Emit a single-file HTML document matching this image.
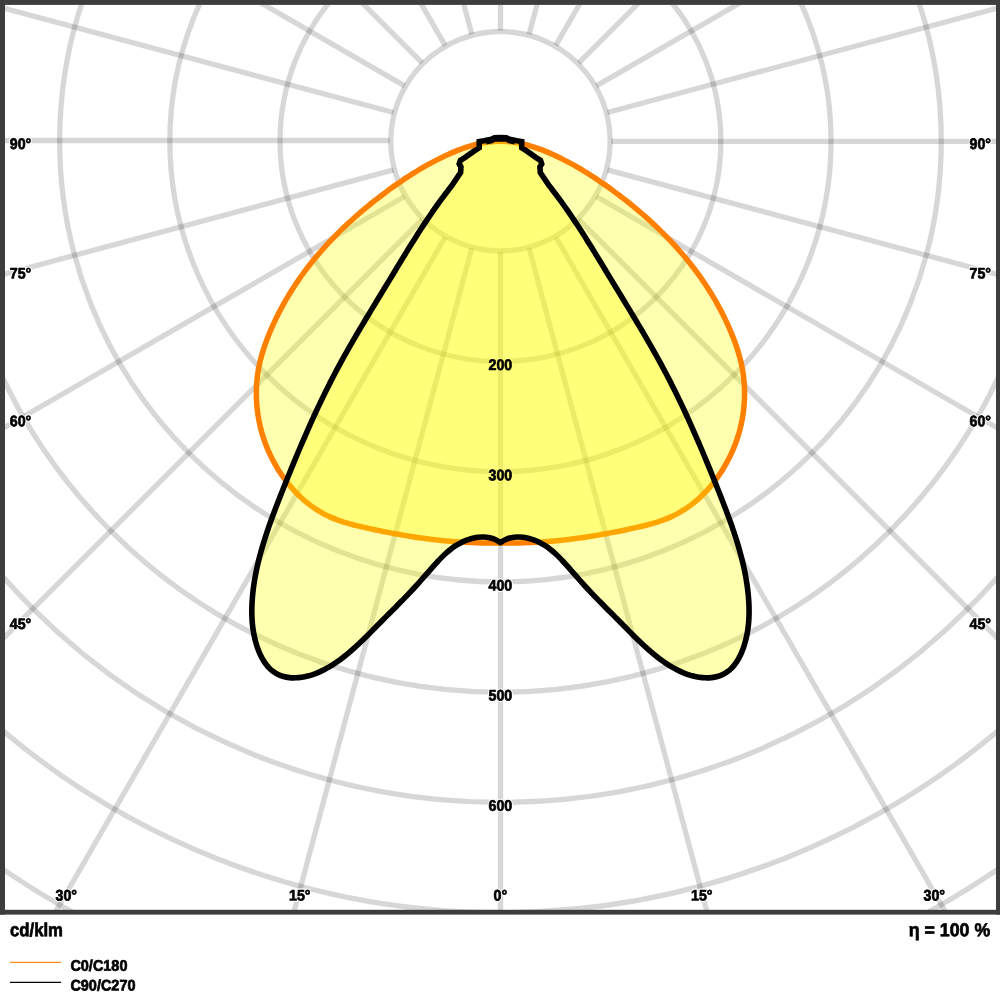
<!DOCTYPE html>
<html><head><meta charset="utf-8"><title>Polar light distribution</title>
<style>
html,body{margin:0;padding:0;background:#fff;}
body{width:1000px;height:1000px;overflow:hidden;position:relative;font-family:"Liberation Sans",sans-serif;}
svg{position:absolute;left:0;top:0;display:block;}
text{font-family:"Liberation Sans",sans-serif;font-weight:bold;font-size:15.3px;}
.ink{fill:#000;stroke:#000;stroke-width:0.7px;}
.halo{fill:#fff;stroke:#fff;stroke-width:2.8px;stroke-linejoin:round;}
.grid{fill:none;stroke:#000;stroke-opacity:0.155;stroke-width:5.3;}
.big{font-size:18.7px;}
</style></head><body>
<svg width="1000" height="1000" viewBox="0 0 1000 1000">
<defs><clipPath id="fr"><rect x="5" y="4.5" width="991" height="905.5"/></clipPath></defs>
<rect x="0" y="0" width="1000" height="1000" fill="#fff"/>
<g clip-path="url(#fr)">
<g class="grid"><circle cx="500.45" cy="141.20" r="109.70"/><circle cx="500.45" cy="141.20" r="220.40"/><circle cx="500.45" cy="141.20" r="330.60"/><circle cx="500.45" cy="141.20" r="440.80"/><circle cx="500.45" cy="141.20" r="551.00"/><circle cx="500.45" cy="141.20" r="661.20"/><circle cx="500.45" cy="141.20" r="771.40"/><circle cx="500.45" cy="141.20" r="881.60"/><line x1="500.50" y1="251.90" x2="500.50" y2="1241.20"/><line x1="529.10" y1="248.13" x2="785.15" y2="1203.72"/><line x1="555.80" y1="237.07" x2="1050.45" y2="1093.83"/><line x1="578.73" y1="219.48" x2="1278.27" y2="919.02"/><line x1="596.32" y1="196.55" x2="1453.08" y2="691.20"/><line x1="607.38" y1="169.85" x2="1562.97" y2="425.90"/><line x1="611.15" y1="141.30" x2="1600.45" y2="141.30"/><line x1="607.38" y1="112.55" x2="1562.97" y2="-143.50"/><line x1="596.32" y1="85.85" x2="1453.08" y2="-408.80"/><line x1="578.73" y1="62.92" x2="1278.27" y2="-636.62"/><line x1="555.80" y1="45.33" x2="1050.45" y2="-811.43"/><line x1="529.10" y1="34.27" x2="785.15" y2="-921.32"/><line x1="500.50" y1="30.50" x2="500.50" y2="-958.80"/><line x1="471.80" y1="34.27" x2="215.75" y2="-921.32"/><line x1="445.10" y1="45.33" x2="-49.55" y2="-811.43"/><line x1="422.17" y1="62.92" x2="-277.37" y2="-636.62"/><line x1="404.58" y1="85.85" x2="-452.18" y2="-408.80"/><line x1="393.52" y1="112.55" x2="-562.07" y2="-143.50"/><line x1="389.75" y1="140.50" x2="-599.55" y2="140.50"/><line x1="393.52" y1="169.85" x2="-562.07" y2="425.90"/><line x1="404.58" y1="196.55" x2="-452.18" y2="691.20"/><line x1="422.17" y1="219.48" x2="-277.37" y2="919.02"/><line x1="445.10" y1="237.07" x2="-49.55" y2="1093.83"/><line x1="471.80" y1="248.13" x2="215.75" y2="1203.72"/></g>
<use href="#labels" class="halo"/>
<path d="M500.45 141.30C499.44 141.33 496.40 141.36 494.40 141.49C492.40 141.62 490.41 141.82 488.43 142.08C486.46 142.33 484.49 142.65 482.54 143.02C480.59 143.38 478.65 143.81 476.72 144.28C474.79 144.75 472.88 145.28 470.97 145.84C469.07 146.40 467.18 147.01 465.30 147.64C463.42 148.28 461.55 148.97 459.69 149.67C457.83 150.38 455.99 151.12 454.15 151.89C452.31 152.65 450.49 153.44 448.67 154.25C446.86 155.06 445.05 155.89 443.26 156.75C441.47 157.60 439.68 158.48 437.91 159.37C436.13 160.27 434.37 161.18 432.61 162.12C430.86 163.05 429.11 164.00 427.38 164.97C425.64 165.95 423.91 166.93 422.19 167.94C420.47 168.94 418.76 169.97 417.06 171.00C415.36 172.04 413.67 173.09 411.98 174.16C410.30 175.23 408.62 176.31 406.95 177.40C405.28 178.50 403.62 179.60 401.97 180.72C400.32 181.84 398.67 182.98 397.03 184.12C395.39 185.26 393.76 186.42 392.14 187.58C390.51 188.74 388.89 189.92 387.28 191.10C385.67 192.28 384.07 193.48 382.47 194.68C380.87 195.88 379.29 197.10 377.71 198.32C376.13 199.54 374.55 200.78 372.99 202.02C371.42 203.26 369.87 204.52 368.32 205.78C366.77 207.04 365.24 208.32 363.71 209.60C362.18 210.89 360.66 212.18 359.15 213.49C357.64 214.79 356.14 216.10 354.65 217.43C353.16 218.75 351.68 220.09 350.21 221.44C348.74 222.78 347.28 224.14 345.83 225.50C344.38 226.87 342.94 228.25 341.51 229.64C340.08 231.02 338.67 232.42 337.26 233.83C335.86 235.24 334.47 236.66 333.09 238.09C331.71 239.52 330.34 240.96 328.98 242.41C327.63 243.86 326.28 245.32 324.95 246.80C323.62 248.27 322.30 249.75 321.00 251.25C319.69 252.74 318.40 254.25 317.12 255.77C315.84 257.28 314.58 258.81 313.33 260.35C312.07 261.89 310.84 263.44 309.62 265.00C308.39 266.56 307.18 268.13 305.99 269.71C304.80 271.29 303.62 272.89 302.46 274.49C301.29 276.10 300.14 277.71 299.01 279.34C297.88 280.97 296.76 282.61 295.66 284.26C294.56 285.91 293.48 287.57 292.41 289.24C291.34 290.91 290.29 292.60 289.25 294.29C288.22 295.99 287.20 297.69 286.19 299.41C285.19 301.13 284.21 302.86 283.24 304.60C282.28 306.35 281.33 308.10 280.39 309.86C279.46 311.63 278.55 313.40 277.66 315.19C276.76 316.98 275.88 318.78 275.03 320.59C274.17 322.40 273.33 324.23 272.51 326.06C271.69 327.90 270.89 329.75 270.11 331.60C269.33 333.46 268.57 335.33 267.83 337.21C267.10 339.10 266.38 340.99 265.70 342.89C265.02 344.79 264.36 346.70 263.74 348.62C263.11 350.53 262.52 352.46 261.96 354.39C261.41 356.32 260.88 358.26 260.40 360.21C259.92 362.15 259.48 364.11 259.08 366.06C258.68 368.02 258.32 369.98 258.01 371.94C257.70 373.90 257.43 375.87 257.21 377.84C256.99 379.81 256.81 381.78 256.67 383.75C256.54 385.72 256.44 387.70 256.39 389.67C256.34 391.64 256.33 393.62 256.36 395.59C256.39 397.56 256.46 399.53 256.57 401.50C256.68 403.46 256.83 405.43 257.02 407.39C257.22 409.35 257.45 411.31 257.72 413.27C258.00 415.22 258.31 417.17 258.67 419.11C259.02 421.05 259.42 422.99 259.85 424.92C260.29 426.85 260.76 428.77 261.28 430.69C261.79 432.60 262.35 434.51 262.95 436.40C263.54 438.30 264.18 440.19 264.86 442.06C265.53 443.94 266.25 445.80 267.00 447.66C267.76 449.51 268.56 451.35 269.39 453.18C270.23 455.01 271.10 456.82 272.01 458.62C272.93 460.42 273.88 462.20 274.86 463.96C275.85 465.72 276.88 467.47 277.94 469.19C279.00 470.91 280.10 472.61 281.23 474.28C282.36 475.95 283.53 477.60 284.73 479.22C285.93 480.84 287.16 482.44 288.43 484.00C289.70 485.56 291.00 487.10 292.33 488.60C293.66 490.09 295.03 491.56 296.42 492.99C297.82 494.42 299.24 495.82 300.70 497.18C302.15 498.53 303.64 499.86 305.15 501.13C306.67 502.41 308.21 503.65 309.78 504.84C311.35 506.03 312.95 507.18 314.57 508.28C316.20 509.38 317.85 510.44 319.53 511.45C321.20 512.45 322.91 513.41 324.63 514.32C326.36 515.22 328.11 516.07 329.89 516.87C331.66 517.67 333.46 518.42 335.28 519.13C337.10 519.83 338.94 520.49 340.79 521.12C342.65 521.74 344.53 522.33 346.42 522.89C348.31 523.45 350.22 523.97 352.14 524.49C354.06 525.00 356.00 525.48 357.94 525.95C359.89 526.43 361.85 526.88 363.81 527.34C365.78 527.79 367.76 528.23 369.74 528.67C371.72 529.10 373.71 529.53 375.70 529.95C377.69 530.37 379.69 530.78 381.69 531.19C383.69 531.59 385.69 531.99 387.69 532.37C389.68 532.76 391.68 533.14 393.68 533.50C395.68 533.87 397.67 534.23 399.66 534.58C401.64 534.93 403.63 535.27 405.60 535.60C407.58 535.93 409.55 536.25 411.52 536.56C413.49 536.87 415.46 537.17 417.42 537.45C419.38 537.74 421.34 538.02 423.29 538.29C425.25 538.56 427.21 538.82 429.16 539.06C431.11 539.31 433.06 539.55 435.02 539.77C436.97 540.00 438.92 540.21 440.87 540.42C442.82 540.62 444.77 540.81 446.73 540.99C448.68 541.17 450.63 541.34 452.59 541.50C454.55 541.66 456.51 541.81 458.47 541.94C460.43 542.08 462.40 542.20 464.37 542.31C466.34 542.42 468.31 542.52 470.29 542.61C472.27 542.70 474.25 542.78 476.24 542.84C478.23 542.90 480.23 542.95 482.23 542.99C484.23 543.03 486.24 543.06 488.26 543.07C490.27 543.08 492.30 543.09 494.33 543.07C496.36 543.06 499.43 543.01 500.45 543.00C501.47 543.01 504.54 543.06 506.57 543.07C508.60 543.09 510.63 543.08 512.64 543.07C514.66 543.06 516.67 543.03 518.67 542.99C520.67 542.95 522.67 542.90 524.66 542.84C526.65 542.78 528.63 542.70 530.61 542.61C532.59 542.52 534.56 542.42 536.53 542.31C538.50 542.20 540.47 542.08 542.43 541.94C544.39 541.81 546.35 541.66 548.31 541.50C550.27 541.34 552.22 541.17 554.17 540.99C556.13 540.81 558.08 540.62 560.03 540.42C561.98 540.21 563.93 540.00 565.88 539.77C567.84 539.55 569.79 539.31 571.74 539.06C573.69 538.82 575.65 538.56 577.61 538.29C579.56 538.02 581.52 537.74 583.48 537.45C585.44 537.17 587.41 536.87 589.38 536.56C591.35 536.25 593.32 535.93 595.30 535.60C597.27 535.27 599.26 534.93 601.24 534.58C603.23 534.23 605.22 533.87 607.22 533.50C609.22 533.14 611.22 532.76 613.21 532.37C615.21 531.99 617.21 531.59 619.21 531.19C621.21 530.78 623.21 530.37 625.20 529.95C627.19 529.53 629.18 529.10 631.16 528.67C633.14 528.23 635.12 527.79 637.09 527.34C639.05 526.88 641.01 526.43 642.96 525.95C644.90 525.48 646.84 525.00 648.76 524.49C650.68 523.97 652.59 523.45 654.48 522.89C656.37 522.33 658.25 521.74 660.11 521.12C661.96 520.49 663.80 519.83 665.62 519.13C667.44 518.42 669.24 517.67 671.01 516.87C672.79 516.07 674.54 515.22 676.27 514.32C677.99 513.41 679.70 512.45 681.37 511.45C683.05 510.44 684.70 509.38 686.33 508.28C687.95 507.18 689.55 506.03 691.12 504.84C692.69 503.65 694.23 502.41 695.75 501.13C697.26 499.86 698.75 498.53 700.20 497.18C701.66 495.82 703.08 494.42 704.48 492.99C705.87 491.56 707.24 490.09 708.57 488.60C709.90 487.10 711.20 485.56 712.47 484.00C713.74 482.44 714.97 480.84 716.17 479.22C717.37 477.60 718.54 475.95 719.67 474.28C720.80 472.61 721.90 470.91 722.96 469.19C724.02 467.47 725.05 465.72 726.04 463.96C727.02 462.20 727.97 460.42 728.89 458.62C729.80 456.82 730.67 455.01 731.51 453.18C732.34 451.35 733.14 449.51 733.90 447.66C734.65 445.80 735.37 443.94 736.04 442.06C736.72 440.19 737.36 438.30 737.95 436.40C738.55 434.51 739.11 432.60 739.62 430.69C740.14 428.77 740.61 426.85 741.05 424.92C741.48 422.99 741.88 421.05 742.23 419.11C742.59 417.17 742.90 415.22 743.18 413.27C743.45 411.31 743.68 409.35 743.88 407.39C744.07 405.43 744.22 403.46 744.33 401.50C744.44 399.53 744.51 397.56 744.54 395.59C744.57 393.62 744.56 391.64 744.51 389.67C744.46 387.70 744.36 385.72 744.23 383.75C744.09 381.78 743.91 379.81 743.69 377.84C743.47 375.87 743.20 373.90 742.89 371.94C742.58 369.98 742.22 368.02 741.82 366.06C741.42 364.11 740.98 362.15 740.50 360.21C740.02 358.26 739.49 356.32 738.94 354.39C738.38 352.46 737.79 350.53 737.16 348.62C736.54 346.70 735.88 344.79 735.20 342.89C734.52 340.99 733.80 339.10 733.07 337.21C732.33 335.33 731.57 333.46 730.79 331.60C730.01 329.75 729.21 327.90 728.39 326.06C727.57 324.23 726.73 322.40 725.87 320.59C725.02 318.78 724.14 316.98 723.24 315.19C722.35 313.40 721.44 311.63 720.51 309.86C719.57 308.10 718.62 306.35 717.66 304.60C716.69 302.86 715.71 301.13 714.71 299.41C713.70 297.69 712.68 295.99 711.65 294.29C710.61 292.60 709.56 290.91 708.49 289.24C707.42 287.57 706.34 285.91 705.24 284.26C704.14 282.61 703.02 280.97 701.89 279.34C700.76 277.71 699.61 276.10 698.44 274.49C697.28 272.89 696.10 271.29 694.91 269.71C693.72 268.13 692.51 266.56 691.28 265.00C690.06 263.44 688.83 261.89 687.57 260.35C686.32 258.81 685.06 257.28 683.78 255.77C682.50 254.25 681.21 252.74 679.90 251.25C678.60 249.75 677.28 248.27 675.95 246.80C674.62 245.32 673.27 243.86 671.92 242.41C670.56 240.96 669.19 239.52 667.81 238.09C666.43 236.66 665.04 235.24 663.64 233.83C662.23 232.42 660.82 231.02 659.39 229.64C657.96 228.25 656.52 226.87 655.07 225.50C653.62 224.14 652.16 222.78 650.69 221.44C649.22 220.09 647.74 218.75 646.25 217.43C644.76 216.10 643.26 214.79 641.75 213.49C640.24 212.18 638.72 210.89 637.19 209.60C635.66 208.32 634.13 207.04 632.58 205.78C631.03 204.52 629.48 203.26 627.91 202.02C626.35 200.78 624.77 199.54 623.19 198.32C621.61 197.10 620.03 195.88 618.43 194.68C616.83 193.48 615.23 192.28 613.62 191.10C612.01 189.92 610.39 188.74 608.76 187.58C607.14 186.42 605.51 185.26 603.87 184.12C602.23 182.98 600.58 181.84 598.93 180.72C597.28 179.60 595.62 178.50 593.95 177.40C592.28 176.31 590.60 175.23 588.92 174.16C587.23 173.09 585.54 172.04 583.84 171.00C582.14 169.97 580.43 168.94 578.71 167.94C576.99 166.93 575.26 165.95 573.52 164.97C571.79 164.00 570.04 163.05 568.29 162.12C566.53 161.18 564.77 160.27 562.99 159.37C561.22 158.48 559.43 157.60 557.64 156.75C555.85 155.89 554.04 155.06 552.23 154.25C550.41 153.44 548.59 152.65 546.75 151.89C544.91 151.12 543.07 150.38 541.21 149.67C539.35 148.97 537.48 148.28 535.60 147.64C533.72 147.01 531.83 146.40 529.93 145.84C528.02 145.28 526.11 144.75 524.18 144.28C522.25 143.81 520.31 143.38 518.36 143.02C516.41 142.65 514.44 142.33 512.47 142.08C510.49 141.82 508.50 141.62 506.50 141.49C504.50 141.36 501.46 141.33 500.45 141.30Z" fill="#ffff00" fill-opacity="0.31" stroke="none"/>
<path d="M500.45 141.30C499.44 141.33 496.40 141.36 494.40 141.49C492.40 141.62 490.41 141.82 488.43 142.08C486.46 142.33 484.49 142.65 482.54 143.02C480.59 143.38 478.65 143.81 476.72 144.28C474.79 144.75 472.88 145.28 470.97 145.84C469.07 146.40 467.18 147.01 465.30 147.64C463.42 148.28 461.55 148.97 459.69 149.67C457.83 150.38 455.99 151.12 454.15 151.89C452.31 152.65 450.49 153.44 448.67 154.25C446.86 155.06 445.05 155.89 443.26 156.75C441.47 157.60 439.68 158.48 437.91 159.37C436.13 160.27 434.37 161.18 432.61 162.12C430.86 163.05 429.11 164.00 427.38 164.97C425.64 165.95 423.91 166.93 422.19 167.94C420.47 168.94 418.76 169.97 417.06 171.00C415.36 172.04 413.67 173.09 411.98 174.16C410.30 175.23 408.62 176.31 406.95 177.40C405.28 178.50 403.62 179.60 401.97 180.72C400.32 181.84 398.67 182.98 397.03 184.12C395.39 185.26 393.76 186.42 392.14 187.58C390.51 188.74 388.89 189.92 387.28 191.10C385.67 192.28 384.07 193.48 382.47 194.68C380.87 195.88 379.29 197.10 377.71 198.32C376.13 199.54 374.55 200.78 372.99 202.02C371.42 203.26 369.87 204.52 368.32 205.78C366.77 207.04 365.24 208.32 363.71 209.60C362.18 210.89 360.66 212.18 359.15 213.49C357.64 214.79 356.14 216.10 354.65 217.43C353.16 218.75 351.68 220.09 350.21 221.44C348.74 222.78 347.28 224.14 345.83 225.50C344.38 226.87 342.94 228.25 341.51 229.64C340.08 231.02 338.67 232.42 337.26 233.83C335.86 235.24 334.47 236.66 333.09 238.09C331.71 239.52 330.34 240.96 328.98 242.41C327.63 243.86 326.28 245.32 324.95 246.80C323.62 248.27 322.30 249.75 321.00 251.25C319.69 252.74 318.40 254.25 317.12 255.77C315.84 257.28 314.58 258.81 313.33 260.35C312.07 261.89 310.84 263.44 309.62 265.00C308.39 266.56 307.18 268.13 305.99 269.71C304.80 271.29 303.62 272.89 302.46 274.49C301.29 276.10 300.14 277.71 299.01 279.34C297.88 280.97 296.76 282.61 295.66 284.26C294.56 285.91 293.48 287.57 292.41 289.24C291.34 290.91 290.29 292.60 289.25 294.29C288.22 295.99 287.20 297.69 286.19 299.41C285.19 301.13 284.21 302.86 283.24 304.60C282.28 306.35 281.33 308.10 280.39 309.86C279.46 311.63 278.55 313.40 277.66 315.19C276.76 316.98 275.88 318.78 275.03 320.59C274.17 322.40 273.33 324.23 272.51 326.06C271.69 327.90 270.89 329.75 270.11 331.60C269.33 333.46 268.57 335.33 267.83 337.21C267.10 339.10 266.38 340.99 265.70 342.89C265.02 344.79 264.36 346.70 263.74 348.62C263.11 350.53 262.52 352.46 261.96 354.39C261.41 356.32 260.88 358.26 260.40 360.21C259.92 362.15 259.48 364.11 259.08 366.06C258.68 368.02 258.32 369.98 258.01 371.94C257.70 373.90 257.43 375.87 257.21 377.84C256.99 379.81 256.81 381.78 256.67 383.75C256.54 385.72 256.44 387.70 256.39 389.67C256.34 391.64 256.33 393.62 256.36 395.59C256.39 397.56 256.46 399.53 256.57 401.50C256.68 403.46 256.83 405.43 257.02 407.39C257.22 409.35 257.45 411.31 257.72 413.27C258.00 415.22 258.31 417.17 258.67 419.11C259.02 421.05 259.42 422.99 259.85 424.92C260.29 426.85 260.76 428.77 261.28 430.69C261.79 432.60 262.35 434.51 262.95 436.40C263.54 438.30 264.18 440.19 264.86 442.06C265.53 443.94 266.25 445.80 267.00 447.66C267.76 449.51 268.56 451.35 269.39 453.18C270.23 455.01 271.10 456.82 272.01 458.62C272.93 460.42 273.88 462.20 274.86 463.96C275.85 465.72 276.88 467.47 277.94 469.19C279.00 470.91 280.10 472.61 281.23 474.28C282.36 475.95 283.53 477.60 284.73 479.22C285.93 480.84 287.16 482.44 288.43 484.00C289.70 485.56 291.00 487.10 292.33 488.60C293.66 490.09 295.03 491.56 296.42 492.99C297.82 494.42 299.24 495.82 300.70 497.18C302.15 498.53 303.64 499.86 305.15 501.13C306.67 502.41 308.21 503.65 309.78 504.84C311.35 506.03 312.95 507.18 314.57 508.28C316.20 509.38 317.85 510.44 319.53 511.45C321.20 512.45 322.91 513.41 324.63 514.32C326.36 515.22 328.11 516.07 329.89 516.87C331.66 517.67 333.46 518.42 335.28 519.13C337.10 519.83 338.94 520.49 340.79 521.12C342.65 521.74 344.53 522.33 346.42 522.89C348.31 523.45 350.22 523.97 352.14 524.49C354.06 525.00 356.00 525.48 357.94 525.95C359.89 526.43 361.85 526.88 363.81 527.34C365.78 527.79 367.76 528.23 369.74 528.67C371.72 529.10 373.71 529.53 375.70 529.95C377.69 530.37 379.69 530.78 381.69 531.19C383.69 531.59 385.69 531.99 387.69 532.37C389.68 532.76 391.68 533.14 393.68 533.50C395.68 533.87 397.67 534.23 399.66 534.58C401.64 534.93 403.63 535.27 405.60 535.60C407.58 535.93 409.55 536.25 411.52 536.56C413.49 536.87 415.46 537.17 417.42 537.45C419.38 537.74 421.34 538.02 423.29 538.29C425.25 538.56 427.21 538.82 429.16 539.06C431.11 539.31 433.06 539.55 435.02 539.77C436.97 540.00 438.92 540.21 440.87 540.42C442.82 540.62 444.77 540.81 446.73 540.99C448.68 541.17 450.63 541.34 452.59 541.50C454.55 541.66 456.51 541.81 458.47 541.94C460.43 542.08 462.40 542.20 464.37 542.31C466.34 542.42 468.31 542.52 470.29 542.61C472.27 542.70 474.25 542.78 476.24 542.84C478.23 542.90 480.23 542.95 482.23 542.99C484.23 543.03 486.24 543.06 488.26 543.07C490.27 543.08 492.30 543.09 494.33 543.07C496.36 543.06 499.43 543.01 500.45 543.00C501.47 543.01 504.54 543.06 506.57 543.07C508.60 543.09 510.63 543.08 512.64 543.07C514.66 543.06 516.67 543.03 518.67 542.99C520.67 542.95 522.67 542.90 524.66 542.84C526.65 542.78 528.63 542.70 530.61 542.61C532.59 542.52 534.56 542.42 536.53 542.31C538.50 542.20 540.47 542.08 542.43 541.94C544.39 541.81 546.35 541.66 548.31 541.50C550.27 541.34 552.22 541.17 554.17 540.99C556.13 540.81 558.08 540.62 560.03 540.42C561.98 540.21 563.93 540.00 565.88 539.77C567.84 539.55 569.79 539.31 571.74 539.06C573.69 538.82 575.65 538.56 577.61 538.29C579.56 538.02 581.52 537.74 583.48 537.45C585.44 537.17 587.41 536.87 589.38 536.56C591.35 536.25 593.32 535.93 595.30 535.60C597.27 535.27 599.26 534.93 601.24 534.58C603.23 534.23 605.22 533.87 607.22 533.50C609.22 533.14 611.22 532.76 613.21 532.37C615.21 531.99 617.21 531.59 619.21 531.19C621.21 530.78 623.21 530.37 625.20 529.95C627.19 529.53 629.18 529.10 631.16 528.67C633.14 528.23 635.12 527.79 637.09 527.34C639.05 526.88 641.01 526.43 642.96 525.95C644.90 525.48 646.84 525.00 648.76 524.49C650.68 523.97 652.59 523.45 654.48 522.89C656.37 522.33 658.25 521.74 660.11 521.12C661.96 520.49 663.80 519.83 665.62 519.13C667.44 518.42 669.24 517.67 671.01 516.87C672.79 516.07 674.54 515.22 676.27 514.32C677.99 513.41 679.70 512.45 681.37 511.45C683.05 510.44 684.70 509.38 686.33 508.28C687.95 507.18 689.55 506.03 691.12 504.84C692.69 503.65 694.23 502.41 695.75 501.13C697.26 499.86 698.75 498.53 700.20 497.18C701.66 495.82 703.08 494.42 704.48 492.99C705.87 491.56 707.24 490.09 708.57 488.60C709.90 487.10 711.20 485.56 712.47 484.00C713.74 482.44 714.97 480.84 716.17 479.22C717.37 477.60 718.54 475.95 719.67 474.28C720.80 472.61 721.90 470.91 722.96 469.19C724.02 467.47 725.05 465.72 726.04 463.96C727.02 462.20 727.97 460.42 728.89 458.62C729.80 456.82 730.67 455.01 731.51 453.18C732.34 451.35 733.14 449.51 733.90 447.66C734.65 445.80 735.37 443.94 736.04 442.06C736.72 440.19 737.36 438.30 737.95 436.40C738.55 434.51 739.11 432.60 739.62 430.69C740.14 428.77 740.61 426.85 741.05 424.92C741.48 422.99 741.88 421.05 742.23 419.11C742.59 417.17 742.90 415.22 743.18 413.27C743.45 411.31 743.68 409.35 743.88 407.39C744.07 405.43 744.22 403.46 744.33 401.50C744.44 399.53 744.51 397.56 744.54 395.59C744.57 393.62 744.56 391.64 744.51 389.67C744.46 387.70 744.36 385.72 744.23 383.75C744.09 381.78 743.91 379.81 743.69 377.84C743.47 375.87 743.20 373.90 742.89 371.94C742.58 369.98 742.22 368.02 741.82 366.06C741.42 364.11 740.98 362.15 740.50 360.21C740.02 358.26 739.49 356.32 738.94 354.39C738.38 352.46 737.79 350.53 737.16 348.62C736.54 346.70 735.88 344.79 735.20 342.89C734.52 340.99 733.80 339.10 733.07 337.21C732.33 335.33 731.57 333.46 730.79 331.60C730.01 329.75 729.21 327.90 728.39 326.06C727.57 324.23 726.73 322.40 725.87 320.59C725.02 318.78 724.14 316.98 723.24 315.19C722.35 313.40 721.44 311.63 720.51 309.86C719.57 308.10 718.62 306.35 717.66 304.60C716.69 302.86 715.71 301.13 714.71 299.41C713.70 297.69 712.68 295.99 711.65 294.29C710.61 292.60 709.56 290.91 708.49 289.24C707.42 287.57 706.34 285.91 705.24 284.26C704.14 282.61 703.02 280.97 701.89 279.34C700.76 277.71 699.61 276.10 698.44 274.49C697.28 272.89 696.10 271.29 694.91 269.71C693.72 268.13 692.51 266.56 691.28 265.00C690.06 263.44 688.83 261.89 687.57 260.35C686.32 258.81 685.06 257.28 683.78 255.77C682.50 254.25 681.21 252.74 679.90 251.25C678.60 249.75 677.28 248.27 675.95 246.80C674.62 245.32 673.27 243.86 671.92 242.41C670.56 240.96 669.19 239.52 667.81 238.09C666.43 236.66 665.04 235.24 663.64 233.83C662.23 232.42 660.82 231.02 659.39 229.64C657.96 228.25 656.52 226.87 655.07 225.50C653.62 224.14 652.16 222.78 650.69 221.44C649.22 220.09 647.74 218.75 646.25 217.43C644.76 216.10 643.26 214.79 641.75 213.49C640.24 212.18 638.72 210.89 637.19 209.60C635.66 208.32 634.13 207.04 632.58 205.78C631.03 204.52 629.48 203.26 627.91 202.02C626.35 200.78 624.77 199.54 623.19 198.32C621.61 197.10 620.03 195.88 618.43 194.68C616.83 193.48 615.23 192.28 613.62 191.10C612.01 189.92 610.39 188.74 608.76 187.58C607.14 186.42 605.51 185.26 603.87 184.12C602.23 182.98 600.58 181.84 598.93 180.72C597.28 179.60 595.62 178.50 593.95 177.40C592.28 176.31 590.60 175.23 588.92 174.16C587.23 173.09 585.54 172.04 583.84 171.00C582.14 169.97 580.43 168.94 578.71 167.94C576.99 166.93 575.26 165.95 573.52 164.97C571.79 164.00 570.04 163.05 568.29 162.12C566.53 161.18 564.77 160.27 562.99 159.37C561.22 158.48 559.43 157.60 557.64 156.75C555.85 155.89 554.04 155.06 552.23 154.25C550.41 153.44 548.59 152.65 546.75 151.89C544.91 151.12 543.07 150.38 541.21 149.67C539.35 148.97 537.48 148.28 535.60 147.64C533.72 147.01 531.83 146.40 529.93 145.84C528.02 145.28 526.11 144.75 524.18 144.28C522.25 143.81 520.31 143.38 518.36 143.02C516.41 142.65 514.44 142.33 512.47 142.08C510.49 141.82 508.50 141.62 506.50 141.49C504.50 141.36 501.46 141.33 500.45 141.30Z" fill="none" stroke="#ff8000" stroke-width="5.5" stroke-linejoin="round"/>
<path d="M500.45 137.60L494.50 137.70L491.50 139.30L484.00 140.80L479.20 141.60L479.20 147.80L473.60 151.40L465.20 157.40L460.40 160.40L459.20 164.00L461.00 167.00L460.60 172.60L452.00 185.40C451.37 186.20 449.48 188.59 448.25 190.19C447.01 191.80 445.78 193.41 444.57 195.02C443.36 196.63 442.16 198.25 440.97 199.88C439.78 201.50 438.60 203.13 437.43 204.76C436.26 206.40 435.10 208.04 433.96 209.68C432.81 211.32 431.67 212.97 430.54 214.62C429.41 216.27 428.29 217.93 427.18 219.59C426.07 221.25 424.96 222.91 423.86 224.58C422.77 226.25 421.68 227.92 420.59 229.59C419.51 231.27 418.43 232.94 417.36 234.62C416.28 236.31 415.22 237.99 414.16 239.68C413.09 241.36 412.04 243.05 410.98 244.75C409.93 246.44 408.88 248.13 407.83 249.83C406.79 251.53 405.74 253.23 404.70 254.93C403.66 256.63 402.62 258.34 401.59 260.04C400.55 261.75 399.51 263.45 398.48 265.16C397.44 266.87 396.41 268.58 395.37 270.30C394.33 272.01 393.30 273.72 392.26 275.44C391.23 277.15 390.19 278.87 389.15 280.58C388.11 282.30 387.07 284.02 386.03 285.73C384.98 287.45 383.94 289.17 382.89 290.89C381.85 292.61 380.80 294.33 379.75 296.05C378.71 297.77 377.66 299.50 376.61 301.22C375.57 302.94 374.52 304.67 373.47 306.40C372.43 308.12 371.38 309.85 370.34 311.58C369.29 313.31 368.25 315.04 367.21 316.77C366.17 318.50 365.13 320.23 364.10 321.96C363.06 323.70 362.03 325.43 360.99 327.17C359.96 328.91 358.94 330.65 357.91 332.39C356.89 334.13 355.87 335.87 354.85 337.61C353.84 339.35 352.83 341.10 351.82 342.85C350.81 344.59 349.81 346.34 348.81 348.09C347.82 349.84 346.83 351.59 345.84 353.35C344.86 355.10 343.88 356.86 342.91 358.62C341.93 360.38 340.97 362.14 340.01 363.90C339.05 365.66 338.10 367.43 337.16 369.19C336.21 370.96 335.28 372.73 334.35 374.50C333.42 376.27 332.50 378.04 331.59 379.82C330.67 381.60 329.77 383.37 328.87 385.15C327.97 386.93 327.08 388.72 326.19 390.50C325.30 392.29 324.43 394.07 323.55 395.86C322.68 397.65 321.82 399.44 320.96 401.24C320.10 403.03 319.24 404.83 318.39 406.63C317.54 408.43 316.70 410.23 315.86 412.03C315.03 413.84 314.20 415.64 313.37 417.45C312.54 419.26 311.72 421.07 310.90 422.88C310.09 424.70 309.28 426.51 308.47 428.33C307.66 430.15 306.86 431.97 306.06 433.79C305.26 435.62 304.47 437.44 303.68 439.27C302.88 441.10 302.10 442.93 301.31 444.76C300.53 446.59 299.75 448.43 298.97 450.27C298.20 452.11 297.42 453.95 296.65 455.79C295.88 457.63 295.12 459.48 294.35 461.33C293.59 463.18 292.82 465.03 292.06 466.88C291.30 468.74 290.55 470.59 289.79 472.45C289.04 474.31 288.28 476.17 287.53 478.04C286.78 479.90 286.03 481.77 285.28 483.64C284.53 485.51 283.78 487.38 283.04 489.26C282.29 491.13 281.54 493.01 280.80 494.89C280.06 496.77 279.32 498.65 278.58 500.54C277.84 502.42 277.11 504.31 276.39 506.21C275.66 508.10 274.94 509.99 274.22 511.89C273.51 513.79 272.80 515.69 272.11 517.59C271.41 519.49 270.72 521.40 270.04 523.30C269.36 525.21 268.69 527.12 268.04 529.04C267.38 530.95 266.74 532.87 266.11 534.79C265.48 536.71 264.86 538.63 264.26 540.56C263.66 542.48 263.07 544.41 262.50 546.34C261.93 548.27 261.37 550.21 260.84 552.15C260.30 554.08 259.78 556.02 259.29 557.97C258.79 559.91 258.31 561.86 257.86 563.80C257.40 565.75 256.96 567.71 256.55 569.66C256.14 571.62 255.75 573.57 255.39 575.54C255.02 577.50 254.68 579.46 254.37 581.43C254.05 583.40 253.76 585.37 253.50 587.34C253.24 589.31 253.01 591.29 252.80 593.27C252.60 595.25 252.43 597.23 252.28 599.22C252.14 601.20 252.02 603.19 251.95 605.18C251.87 607.18 251.82 609.17 251.82 611.17C251.82 613.16 251.86 615.16 251.94 617.16C252.03 619.16 252.15 621.15 252.34 623.15C252.52 625.15 252.74 627.15 253.03 629.15C253.32 631.15 253.66 633.15 254.07 635.15C254.47 637.15 254.93 639.15 255.47 641.14C256.00 643.12 256.59 645.13 257.26 647.08C257.93 649.03 258.67 650.98 259.49 652.85C260.30 654.73 261.19 656.57 262.17 658.32C263.14 660.08 264.20 661.78 265.34 663.36C266.48 664.95 267.71 666.46 269.03 667.84C270.35 669.21 271.76 670.49 273.28 671.61C274.79 672.73 276.39 673.74 278.10 674.56C279.81 675.38 281.64 676.04 283.52 676.55C285.41 677.06 287.41 677.39 289.42 677.60C291.43 677.81 293.51 677.86 295.57 677.81C297.62 677.75 299.72 677.56 301.75 677.27C303.78 676.98 305.79 676.56 307.75 676.07C309.71 675.58 311.63 674.98 313.52 674.32C315.40 673.65 317.25 672.90 319.07 672.10C320.90 671.30 322.69 670.43 324.46 669.51C326.22 668.60 327.96 667.62 329.68 666.61C331.40 665.59 333.09 664.52 334.77 663.41C336.44 662.31 338.09 661.15 339.71 659.96C341.34 658.78 342.95 657.55 344.54 656.29C346.13 655.03 347.70 653.74 349.25 652.42C350.81 651.11 352.35 649.76 353.87 648.40C355.39 647.04 356.90 645.65 358.39 644.25C359.88 642.85 361.36 641.43 362.83 640.01C364.30 638.58 365.76 637.14 367.21 635.70C368.66 634.26 370.09 632.81 371.52 631.37C372.96 629.92 374.38 628.47 375.79 627.04C377.21 625.60 378.62 624.16 380.03 622.74C381.44 621.32 382.84 619.91 384.24 618.51C385.63 617.11 387.03 615.71 388.42 614.32C389.81 612.93 391.20 611.55 392.58 610.17C393.97 608.78 395.35 607.40 396.73 606.01C398.11 604.63 399.48 603.24 400.85 601.84C402.23 600.45 403.60 599.05 404.96 597.63C406.33 596.22 407.70 594.80 409.06 593.36C410.42 591.92 411.78 590.48 413.14 589.01C414.50 587.54 415.86 586.05 417.21 584.55C418.57 583.04 419.92 581.52 421.28 579.99C422.63 578.47 423.98 576.93 425.33 575.39C426.68 573.86 428.03 572.31 429.38 570.78C430.73 569.25 432.08 567.72 433.43 566.21C434.78 564.70 436.12 563.19 437.49 561.72C438.86 560.25 440.23 558.79 441.63 557.38C443.04 555.97 444.46 554.59 445.93 553.27C447.40 551.94 448.89 550.66 450.44 549.44C452.00 548.22 453.59 547.05 455.25 545.96C456.91 544.88 458.63 543.84 460.42 542.91C462.21 541.98 464.07 541.11 465.97 540.36C467.86 539.62 469.82 538.96 471.78 538.44C473.74 537.93 475.75 537.52 477.74 537.27C479.73 537.03 481.74 536.91 483.71 536.98C485.69 537.04 487.66 537.26 489.58 537.68C491.49 538.10 493.38 538.70 495.20 539.51C497.01 540.33 499.57 542.09 500.45 542.60C501.33 542.09 503.89 540.33 505.70 539.51C507.52 538.70 509.41 538.10 511.32 537.68C513.24 537.26 515.21 537.04 517.19 536.98C519.16 536.91 521.17 537.03 523.16 537.27C525.15 537.52 527.16 537.93 529.12 538.44C531.08 538.96 533.04 539.62 534.93 540.36C536.83 541.11 538.69 541.98 540.48 542.91C542.27 543.84 543.99 544.88 545.65 545.96C547.31 547.05 548.90 548.22 550.46 549.44C552.01 550.66 553.50 551.94 554.97 553.27C556.44 554.59 557.86 555.97 559.27 557.38C560.67 558.79 562.04 560.25 563.41 561.72C564.78 563.19 566.12 564.70 567.47 566.21C568.82 567.72 570.17 569.25 571.52 570.78C572.87 572.31 574.22 573.86 575.57 575.39C576.92 576.93 578.27 578.47 579.62 579.99C580.98 581.52 582.33 583.04 583.69 584.55C585.04 586.05 586.40 587.54 587.76 589.01C589.12 590.48 590.48 591.92 591.84 593.36C593.20 594.80 594.57 596.22 595.94 597.63C597.30 599.05 598.67 600.45 600.05 601.84C601.42 603.24 602.79 604.63 604.17 606.01C605.55 607.40 606.93 608.78 608.32 610.17C609.70 611.55 611.09 612.93 612.48 614.32C613.87 615.71 615.27 617.11 616.66 618.51C618.06 619.91 619.46 621.32 620.87 622.74C622.28 624.16 623.69 625.60 625.11 627.04C626.52 628.47 627.94 629.92 629.38 631.37C630.81 632.81 632.24 634.26 633.69 635.70C635.14 637.14 636.60 638.58 638.07 640.01C639.54 641.43 641.02 642.85 642.51 644.25C644.00 645.65 645.51 647.04 647.03 648.40C648.55 649.76 650.09 651.11 651.65 652.42C653.20 653.74 654.77 655.03 656.36 656.29C657.95 657.55 659.56 658.78 661.19 659.96C662.81 661.15 664.46 662.31 666.13 663.41C667.81 664.52 669.50 665.59 671.22 666.61C672.94 667.62 674.68 668.60 676.44 669.51C678.21 670.43 680.00 671.30 681.83 672.10C683.65 672.90 685.50 673.65 687.38 674.32C689.27 674.98 691.19 675.58 693.15 676.07C695.11 676.56 697.12 676.98 699.15 677.27C701.18 677.56 703.28 677.75 705.33 677.81C707.39 677.86 709.47 677.81 711.48 677.60C713.49 677.39 715.49 677.06 717.38 676.55C719.26 676.04 721.09 675.38 722.80 674.56C724.51 673.74 726.11 672.73 727.62 671.61C729.14 670.49 730.55 669.21 731.87 667.84C733.19 666.46 734.42 664.95 735.56 663.36C736.70 661.78 737.76 660.08 738.73 658.32C739.71 656.57 740.60 654.73 741.41 652.85C742.23 650.98 742.97 649.03 743.64 647.08C744.31 645.13 744.90 643.12 745.43 641.14C745.97 639.15 746.43 637.15 746.83 635.15C747.24 633.15 747.58 631.15 747.87 629.15C748.16 627.15 748.38 625.15 748.56 623.15C748.75 621.15 748.87 619.16 748.96 617.16C749.04 615.16 749.08 613.16 749.08 611.17C749.08 609.17 749.03 607.18 748.95 605.18C748.88 603.19 748.76 601.20 748.62 599.22C748.47 597.23 748.30 595.25 748.10 593.27C747.89 591.29 747.66 589.31 747.40 587.34C747.14 585.37 746.85 583.40 746.53 581.43C746.22 579.46 745.88 577.50 745.51 575.54C745.15 573.57 744.76 571.62 744.35 569.66C743.94 567.71 743.50 565.75 743.04 563.80C742.59 561.86 742.11 559.91 741.61 557.97C741.12 556.02 740.60 554.08 740.06 552.15C739.53 550.21 738.97 548.27 738.40 546.34C737.83 544.41 737.24 542.48 736.64 540.56C736.04 538.63 735.42 536.71 734.79 534.79C734.16 532.87 733.52 530.95 732.86 529.04C732.21 527.12 731.54 525.21 730.86 523.30C730.18 521.40 729.49 519.49 728.79 517.59C728.10 515.69 727.39 513.79 726.68 511.89C725.96 509.99 725.24 508.10 724.51 506.21C723.79 504.31 723.06 502.42 722.32 500.54C721.58 498.65 720.84 496.77 720.10 494.89C719.36 493.01 718.61 491.13 717.86 489.26C717.12 487.38 716.37 485.51 715.62 483.64C714.87 481.77 714.12 479.90 713.37 478.04C712.62 476.17 711.86 474.31 711.11 472.45C710.35 470.59 709.60 468.74 708.84 466.88C708.08 465.03 707.31 463.18 706.55 461.33C705.78 459.48 705.02 457.63 704.25 455.79C703.48 453.95 702.70 452.11 701.93 450.27C701.15 448.43 700.37 446.59 699.59 444.76C698.80 442.93 698.02 441.10 697.22 439.27C696.43 437.44 695.64 435.62 694.84 433.79C694.04 431.97 693.24 430.15 692.43 428.33C691.62 426.51 690.81 424.70 690.00 422.88C689.18 421.07 688.36 419.26 687.53 417.45C686.70 415.64 685.87 413.84 685.04 412.03C684.20 410.23 683.36 408.43 682.51 406.63C681.66 404.83 680.80 403.03 679.94 401.24C679.08 399.44 678.22 397.65 677.35 395.86C676.47 394.07 675.60 392.29 674.71 390.50C673.82 388.72 672.93 386.93 672.03 385.15C671.13 383.37 670.23 381.60 669.31 379.82C668.40 378.04 667.48 376.27 666.55 374.50C665.62 372.73 664.69 370.96 663.74 369.19C662.80 367.43 661.85 365.66 660.89 363.90C659.93 362.14 658.97 360.38 657.99 358.62C657.02 356.86 656.04 355.10 655.06 353.35C654.07 351.59 653.08 349.84 652.09 348.09C651.09 346.34 650.09 344.59 649.08 342.85C648.07 341.10 647.06 339.35 646.05 337.61C645.03 335.87 644.01 334.13 642.99 332.39C641.96 330.65 640.94 328.91 639.91 327.17C638.87 325.43 637.84 323.70 636.80 321.96C635.77 320.23 634.73 318.50 633.69 316.77C632.65 315.04 631.61 313.31 630.56 311.58C629.52 309.85 628.47 308.12 627.43 306.40C626.38 304.67 625.33 302.94 624.29 301.22C623.24 299.50 622.19 297.77 621.15 296.05C620.10 294.33 619.05 292.61 618.01 290.89C616.96 289.17 615.92 287.45 614.87 285.73C613.83 284.02 612.79 282.30 611.75 280.58C610.71 278.87 609.67 277.15 608.64 275.44C607.60 273.72 606.57 272.01 605.53 270.30C604.49 268.58 603.46 266.87 602.42 265.16C601.39 263.45 600.35 261.75 599.31 260.04C598.28 258.34 597.24 256.63 596.20 254.93C595.16 253.23 594.11 251.53 593.07 249.83C592.02 248.13 590.97 246.44 589.92 244.75C588.86 243.05 587.81 241.36 586.74 239.68C585.68 237.99 584.62 236.31 583.54 234.62C582.47 232.94 581.39 231.27 580.31 229.59C579.22 227.92 578.13 226.25 577.04 224.58C575.94 222.91 574.83 221.25 573.72 219.59C572.61 217.93 571.49 216.27 570.36 214.62C569.23 212.97 568.09 211.32 566.94 209.68C565.80 208.04 564.64 206.40 563.47 204.76C562.30 203.13 561.12 201.50 559.93 199.88C558.74 198.25 557.54 196.63 556.33 195.02C555.12 193.41 553.89 191.80 552.65 190.19C551.42 188.59 549.53 186.20 548.90 185.40L540.30 172.60L539.90 167.00L541.70 164.00L540.50 160.40L535.70 157.40L527.30 151.40L521.70 147.80L521.70 141.60L516.90 140.80L509.40 139.30L506.40 137.70L500.45 137.60Z" fill="#ffff00" fill-opacity="0.31" stroke="none"/>
<path d="M500.45 137.60L494.50 137.70L491.50 139.30L484.00 140.80L479.20 141.60L479.20 147.80L473.60 151.40L465.20 157.40L460.40 160.40L459.20 164.00L461.00 167.00L460.60 172.60L452.00 185.40C451.37 186.20 449.48 188.59 448.25 190.19C447.01 191.80 445.78 193.41 444.57 195.02C443.36 196.63 442.16 198.25 440.97 199.88C439.78 201.50 438.60 203.13 437.43 204.76C436.26 206.40 435.10 208.04 433.96 209.68C432.81 211.32 431.67 212.97 430.54 214.62C429.41 216.27 428.29 217.93 427.18 219.59C426.07 221.25 424.96 222.91 423.86 224.58C422.77 226.25 421.68 227.92 420.59 229.59C419.51 231.27 418.43 232.94 417.36 234.62C416.28 236.31 415.22 237.99 414.16 239.68C413.09 241.36 412.04 243.05 410.98 244.75C409.93 246.44 408.88 248.13 407.83 249.83C406.79 251.53 405.74 253.23 404.70 254.93C403.66 256.63 402.62 258.34 401.59 260.04C400.55 261.75 399.51 263.45 398.48 265.16C397.44 266.87 396.41 268.58 395.37 270.30C394.33 272.01 393.30 273.72 392.26 275.44C391.23 277.15 390.19 278.87 389.15 280.58C388.11 282.30 387.07 284.02 386.03 285.73C384.98 287.45 383.94 289.17 382.89 290.89C381.85 292.61 380.80 294.33 379.75 296.05C378.71 297.77 377.66 299.50 376.61 301.22C375.57 302.94 374.52 304.67 373.47 306.40C372.43 308.12 371.38 309.85 370.34 311.58C369.29 313.31 368.25 315.04 367.21 316.77C366.17 318.50 365.13 320.23 364.10 321.96C363.06 323.70 362.03 325.43 360.99 327.17C359.96 328.91 358.94 330.65 357.91 332.39C356.89 334.13 355.87 335.87 354.85 337.61C353.84 339.35 352.83 341.10 351.82 342.85C350.81 344.59 349.81 346.34 348.81 348.09C347.82 349.84 346.83 351.59 345.84 353.35C344.86 355.10 343.88 356.86 342.91 358.62C341.93 360.38 340.97 362.14 340.01 363.90C339.05 365.66 338.10 367.43 337.16 369.19C336.21 370.96 335.28 372.73 334.35 374.50C333.42 376.27 332.50 378.04 331.59 379.82C330.67 381.60 329.77 383.37 328.87 385.15C327.97 386.93 327.08 388.72 326.19 390.50C325.30 392.29 324.43 394.07 323.55 395.86C322.68 397.65 321.82 399.44 320.96 401.24C320.10 403.03 319.24 404.83 318.39 406.63C317.54 408.43 316.70 410.23 315.86 412.03C315.03 413.84 314.20 415.64 313.37 417.45C312.54 419.26 311.72 421.07 310.90 422.88C310.09 424.70 309.28 426.51 308.47 428.33C307.66 430.15 306.86 431.97 306.06 433.79C305.26 435.62 304.47 437.44 303.68 439.27C302.88 441.10 302.10 442.93 301.31 444.76C300.53 446.59 299.75 448.43 298.97 450.27C298.20 452.11 297.42 453.95 296.65 455.79C295.88 457.63 295.12 459.48 294.35 461.33C293.59 463.18 292.82 465.03 292.06 466.88C291.30 468.74 290.55 470.59 289.79 472.45C289.04 474.31 288.28 476.17 287.53 478.04C286.78 479.90 286.03 481.77 285.28 483.64C284.53 485.51 283.78 487.38 283.04 489.26C282.29 491.13 281.54 493.01 280.80 494.89C280.06 496.77 279.32 498.65 278.58 500.54C277.84 502.42 277.11 504.31 276.39 506.21C275.66 508.10 274.94 509.99 274.22 511.89C273.51 513.79 272.80 515.69 272.11 517.59C271.41 519.49 270.72 521.40 270.04 523.30C269.36 525.21 268.69 527.12 268.04 529.04C267.38 530.95 266.74 532.87 266.11 534.79C265.48 536.71 264.86 538.63 264.26 540.56C263.66 542.48 263.07 544.41 262.50 546.34C261.93 548.27 261.37 550.21 260.84 552.15C260.30 554.08 259.78 556.02 259.29 557.97C258.79 559.91 258.31 561.86 257.86 563.80C257.40 565.75 256.96 567.71 256.55 569.66C256.14 571.62 255.75 573.57 255.39 575.54C255.02 577.50 254.68 579.46 254.37 581.43C254.05 583.40 253.76 585.37 253.50 587.34C253.24 589.31 253.01 591.29 252.80 593.27C252.60 595.25 252.43 597.23 252.28 599.22C252.14 601.20 252.02 603.19 251.95 605.18C251.87 607.18 251.82 609.17 251.82 611.17C251.82 613.16 251.86 615.16 251.94 617.16C252.03 619.16 252.15 621.15 252.34 623.15C252.52 625.15 252.74 627.15 253.03 629.15C253.32 631.15 253.66 633.15 254.07 635.15C254.47 637.15 254.93 639.15 255.47 641.14C256.00 643.12 256.59 645.13 257.26 647.08C257.93 649.03 258.67 650.98 259.49 652.85C260.30 654.73 261.19 656.57 262.17 658.32C263.14 660.08 264.20 661.78 265.34 663.36C266.48 664.95 267.71 666.46 269.03 667.84C270.35 669.21 271.76 670.49 273.28 671.61C274.79 672.73 276.39 673.74 278.10 674.56C279.81 675.38 281.64 676.04 283.52 676.55C285.41 677.06 287.41 677.39 289.42 677.60C291.43 677.81 293.51 677.86 295.57 677.81C297.62 677.75 299.72 677.56 301.75 677.27C303.78 676.98 305.79 676.56 307.75 676.07C309.71 675.58 311.63 674.98 313.52 674.32C315.40 673.65 317.25 672.90 319.07 672.10C320.90 671.30 322.69 670.43 324.46 669.51C326.22 668.60 327.96 667.62 329.68 666.61C331.40 665.59 333.09 664.52 334.77 663.41C336.44 662.31 338.09 661.15 339.71 659.96C341.34 658.78 342.95 657.55 344.54 656.29C346.13 655.03 347.70 653.74 349.25 652.42C350.81 651.11 352.35 649.76 353.87 648.40C355.39 647.04 356.90 645.65 358.39 644.25C359.88 642.85 361.36 641.43 362.83 640.01C364.30 638.58 365.76 637.14 367.21 635.70C368.66 634.26 370.09 632.81 371.52 631.37C372.96 629.92 374.38 628.47 375.79 627.04C377.21 625.60 378.62 624.16 380.03 622.74C381.44 621.32 382.84 619.91 384.24 618.51C385.63 617.11 387.03 615.71 388.42 614.32C389.81 612.93 391.20 611.55 392.58 610.17C393.97 608.78 395.35 607.40 396.73 606.01C398.11 604.63 399.48 603.24 400.85 601.84C402.23 600.45 403.60 599.05 404.96 597.63C406.33 596.22 407.70 594.80 409.06 593.36C410.42 591.92 411.78 590.48 413.14 589.01C414.50 587.54 415.86 586.05 417.21 584.55C418.57 583.04 419.92 581.52 421.28 579.99C422.63 578.47 423.98 576.93 425.33 575.39C426.68 573.86 428.03 572.31 429.38 570.78C430.73 569.25 432.08 567.72 433.43 566.21C434.78 564.70 436.12 563.19 437.49 561.72C438.86 560.25 440.23 558.79 441.63 557.38C443.04 555.97 444.46 554.59 445.93 553.27C447.40 551.94 448.89 550.66 450.44 549.44C452.00 548.22 453.59 547.05 455.25 545.96C456.91 544.88 458.63 543.84 460.42 542.91C462.21 541.98 464.07 541.11 465.97 540.36C467.86 539.62 469.82 538.96 471.78 538.44C473.74 537.93 475.75 537.52 477.74 537.27C479.73 537.03 481.74 536.91 483.71 536.98C485.69 537.04 487.66 537.26 489.58 537.68C491.49 538.10 493.38 538.70 495.20 539.51C497.01 540.33 499.57 542.09 500.45 542.60C501.33 542.09 503.89 540.33 505.70 539.51C507.52 538.70 509.41 538.10 511.32 537.68C513.24 537.26 515.21 537.04 517.19 536.98C519.16 536.91 521.17 537.03 523.16 537.27C525.15 537.52 527.16 537.93 529.12 538.44C531.08 538.96 533.04 539.62 534.93 540.36C536.83 541.11 538.69 541.98 540.48 542.91C542.27 543.84 543.99 544.88 545.65 545.96C547.31 547.05 548.90 548.22 550.46 549.44C552.01 550.66 553.50 551.94 554.97 553.27C556.44 554.59 557.86 555.97 559.27 557.38C560.67 558.79 562.04 560.25 563.41 561.72C564.78 563.19 566.12 564.70 567.47 566.21C568.82 567.72 570.17 569.25 571.52 570.78C572.87 572.31 574.22 573.86 575.57 575.39C576.92 576.93 578.27 578.47 579.62 579.99C580.98 581.52 582.33 583.04 583.69 584.55C585.04 586.05 586.40 587.54 587.76 589.01C589.12 590.48 590.48 591.92 591.84 593.36C593.20 594.80 594.57 596.22 595.94 597.63C597.30 599.05 598.67 600.45 600.05 601.84C601.42 603.24 602.79 604.63 604.17 606.01C605.55 607.40 606.93 608.78 608.32 610.17C609.70 611.55 611.09 612.93 612.48 614.32C613.87 615.71 615.27 617.11 616.66 618.51C618.06 619.91 619.46 621.32 620.87 622.74C622.28 624.16 623.69 625.60 625.11 627.04C626.52 628.47 627.94 629.92 629.38 631.37C630.81 632.81 632.24 634.26 633.69 635.70C635.14 637.14 636.60 638.58 638.07 640.01C639.54 641.43 641.02 642.85 642.51 644.25C644.00 645.65 645.51 647.04 647.03 648.40C648.55 649.76 650.09 651.11 651.65 652.42C653.20 653.74 654.77 655.03 656.36 656.29C657.95 657.55 659.56 658.78 661.19 659.96C662.81 661.15 664.46 662.31 666.13 663.41C667.81 664.52 669.50 665.59 671.22 666.61C672.94 667.62 674.68 668.60 676.44 669.51C678.21 670.43 680.00 671.30 681.83 672.10C683.65 672.90 685.50 673.65 687.38 674.32C689.27 674.98 691.19 675.58 693.15 676.07C695.11 676.56 697.12 676.98 699.15 677.27C701.18 677.56 703.28 677.75 705.33 677.81C707.39 677.86 709.47 677.81 711.48 677.60C713.49 677.39 715.49 677.06 717.38 676.55C719.26 676.04 721.09 675.38 722.80 674.56C724.51 673.74 726.11 672.73 727.62 671.61C729.14 670.49 730.55 669.21 731.87 667.84C733.19 666.46 734.42 664.95 735.56 663.36C736.70 661.78 737.76 660.08 738.73 658.32C739.71 656.57 740.60 654.73 741.41 652.85C742.23 650.98 742.97 649.03 743.64 647.08C744.31 645.13 744.90 643.12 745.43 641.14C745.97 639.15 746.43 637.15 746.83 635.15C747.24 633.15 747.58 631.15 747.87 629.15C748.16 627.15 748.38 625.15 748.56 623.15C748.75 621.15 748.87 619.16 748.96 617.16C749.04 615.16 749.08 613.16 749.08 611.17C749.08 609.17 749.03 607.18 748.95 605.18C748.88 603.19 748.76 601.20 748.62 599.22C748.47 597.23 748.30 595.25 748.10 593.27C747.89 591.29 747.66 589.31 747.40 587.34C747.14 585.37 746.85 583.40 746.53 581.43C746.22 579.46 745.88 577.50 745.51 575.54C745.15 573.57 744.76 571.62 744.35 569.66C743.94 567.71 743.50 565.75 743.04 563.80C742.59 561.86 742.11 559.91 741.61 557.97C741.12 556.02 740.60 554.08 740.06 552.15C739.53 550.21 738.97 548.27 738.40 546.34C737.83 544.41 737.24 542.48 736.64 540.56C736.04 538.63 735.42 536.71 734.79 534.79C734.16 532.87 733.52 530.95 732.86 529.04C732.21 527.12 731.54 525.21 730.86 523.30C730.18 521.40 729.49 519.49 728.79 517.59C728.10 515.69 727.39 513.79 726.68 511.89C725.96 509.99 725.24 508.10 724.51 506.21C723.79 504.31 723.06 502.42 722.32 500.54C721.58 498.65 720.84 496.77 720.10 494.89C719.36 493.01 718.61 491.13 717.86 489.26C717.12 487.38 716.37 485.51 715.62 483.64C714.87 481.77 714.12 479.90 713.37 478.04C712.62 476.17 711.86 474.31 711.11 472.45C710.35 470.59 709.60 468.74 708.84 466.88C708.08 465.03 707.31 463.18 706.55 461.33C705.78 459.48 705.02 457.63 704.25 455.79C703.48 453.95 702.70 452.11 701.93 450.27C701.15 448.43 700.37 446.59 699.59 444.76C698.80 442.93 698.02 441.10 697.22 439.27C696.43 437.44 695.64 435.62 694.84 433.79C694.04 431.97 693.24 430.15 692.43 428.33C691.62 426.51 690.81 424.70 690.00 422.88C689.18 421.07 688.36 419.26 687.53 417.45C686.70 415.64 685.87 413.84 685.04 412.03C684.20 410.23 683.36 408.43 682.51 406.63C681.66 404.83 680.80 403.03 679.94 401.24C679.08 399.44 678.22 397.65 677.35 395.86C676.47 394.07 675.60 392.29 674.71 390.50C673.82 388.72 672.93 386.93 672.03 385.15C671.13 383.37 670.23 381.60 669.31 379.82C668.40 378.04 667.48 376.27 666.55 374.50C665.62 372.73 664.69 370.96 663.74 369.19C662.80 367.43 661.85 365.66 660.89 363.90C659.93 362.14 658.97 360.38 657.99 358.62C657.02 356.86 656.04 355.10 655.06 353.35C654.07 351.59 653.08 349.84 652.09 348.09C651.09 346.34 650.09 344.59 649.08 342.85C648.07 341.10 647.06 339.35 646.05 337.61C645.03 335.87 644.01 334.13 642.99 332.39C641.96 330.65 640.94 328.91 639.91 327.17C638.87 325.43 637.84 323.70 636.80 321.96C635.77 320.23 634.73 318.50 633.69 316.77C632.65 315.04 631.61 313.31 630.56 311.58C629.52 309.85 628.47 308.12 627.43 306.40C626.38 304.67 625.33 302.94 624.29 301.22C623.24 299.50 622.19 297.77 621.15 296.05C620.10 294.33 619.05 292.61 618.01 290.89C616.96 289.17 615.92 287.45 614.87 285.73C613.83 284.02 612.79 282.30 611.75 280.58C610.71 278.87 609.67 277.15 608.64 275.44C607.60 273.72 606.57 272.01 605.53 270.30C604.49 268.58 603.46 266.87 602.42 265.16C601.39 263.45 600.35 261.75 599.31 260.04C598.28 258.34 597.24 256.63 596.20 254.93C595.16 253.23 594.11 251.53 593.07 249.83C592.02 248.13 590.97 246.44 589.92 244.75C588.86 243.05 587.81 241.36 586.74 239.68C585.68 237.99 584.62 236.31 583.54 234.62C582.47 232.94 581.39 231.27 580.31 229.59C579.22 227.92 578.13 226.25 577.04 224.58C575.94 222.91 574.83 221.25 573.72 219.59C572.61 217.93 571.49 216.27 570.36 214.62C569.23 212.97 568.09 211.32 566.94 209.68C565.80 208.04 564.64 206.40 563.47 204.76C562.30 203.13 561.12 201.50 559.93 199.88C558.74 198.25 557.54 196.63 556.33 195.02C555.12 193.41 553.89 191.80 552.65 190.19C551.42 188.59 549.53 186.20 548.90 185.40L540.30 172.60L539.90 167.00L541.70 164.00L540.50 160.40L535.70 157.40L527.30 151.40L521.70 147.80L521.70 141.60L516.90 140.80L509.40 139.30L506.40 137.70L500.45 137.60Z" fill="none" stroke="#000" stroke-width="5.6" stroke-linejoin="miter" stroke-miterlimit="4"/>
<path d="M486 141.7L491.5 140.5L494.5 139L506.4 139L509.4 140.5L514.9 141.7" fill="none" stroke="#000" stroke-width="5.6" stroke-linejoin="miter"/>
<g class="ink"><g id="labels"><text transform="translate(9.80 149.10) rotate(0.05) scale(0.930 1)" text-anchor="start">90°</text><text transform="translate(991.00 149.10) rotate(0.05) scale(0.930 1)" text-anchor="end">90°</text><text transform="translate(9.80 278.40) rotate(0.05) scale(0.930 1)" text-anchor="start">75°</text><text transform="translate(991.00 278.40) rotate(0.05) scale(0.930 1)" text-anchor="end">75°</text><text transform="translate(9.80 426.20) rotate(0.05) scale(0.930 1)" text-anchor="start">60°</text><text transform="translate(991.00 426.20) rotate(0.05) scale(0.930 1)" text-anchor="end">60°</text><text transform="translate(9.80 629.10) rotate(0.05) scale(0.930 1)" text-anchor="start">45°</text><text transform="translate(991.00 629.10) rotate(0.05) scale(0.930 1)" text-anchor="end">45°</text><text transform="translate(66.30 900.40) rotate(0.05) scale(0.930 1)" text-anchor="middle">30°</text><text transform="translate(299.80 900.40) rotate(0.05) scale(0.930 1)" text-anchor="middle">15°</text><text transform="translate(500.30 900.40) rotate(0.05) scale(0.930 1)" text-anchor="middle">0°</text><text transform="translate(701.80 900.40) rotate(0.05) scale(0.930 1)" text-anchor="middle">15°</text><text transform="translate(934.30 900.40) rotate(0.05) scale(0.930 1)" text-anchor="middle">30°</text><text transform="translate(500.40 370.00) rotate(0.05) scale(0.930 1)" text-anchor="middle">200</text><text transform="translate(500.40 480.20) rotate(0.05) scale(0.930 1)" text-anchor="middle">300</text><text transform="translate(500.40 590.40) rotate(0.05) scale(0.930 1)" text-anchor="middle">400</text><text transform="translate(500.40 700.60) rotate(0.05) scale(0.930 1)" text-anchor="middle">500</text><text transform="translate(500.40 810.80) rotate(0.05) scale(0.930 1)" text-anchor="middle">600</text></g></g>
</g>
<g fill="#3d3d3d">
<rect x="0" y="0" width="1000" height="4.9"/>
<rect x="0" y="0" width="5" height="914.6"/>
<rect x="996" y="0" width="4" height="914.6"/>
<rect x="0" y="909.8" width="1000" height="4.8"/>
</g>
<g class="ink"><text transform="translate(10.00 936.20) rotate(0.05) scale(0.895 1)" text-anchor="start" class="big">cd/klm</text>
<text transform="translate(990.20 936.20) rotate(0.05) scale(0.950 1)" text-anchor="end" class="big">η = 100 %</text>
<line x1="10" y1="962.3" x2="61" y2="962.3" stroke="#ff8c14" stroke-width="1.3"/>
<line x1="10" y1="982.3" x2="61" y2="982.3" stroke="#000" stroke-width="1.3"/>
<text transform="translate(70.40 970.80) rotate(0.05) scale(0.945 1)" text-anchor="start">C0/C180</text>
<text transform="translate(70.40 990.40) rotate(0.05) scale(0.945 1)" text-anchor="start">C90/C270</text></g>
</svg>
</body></html>
